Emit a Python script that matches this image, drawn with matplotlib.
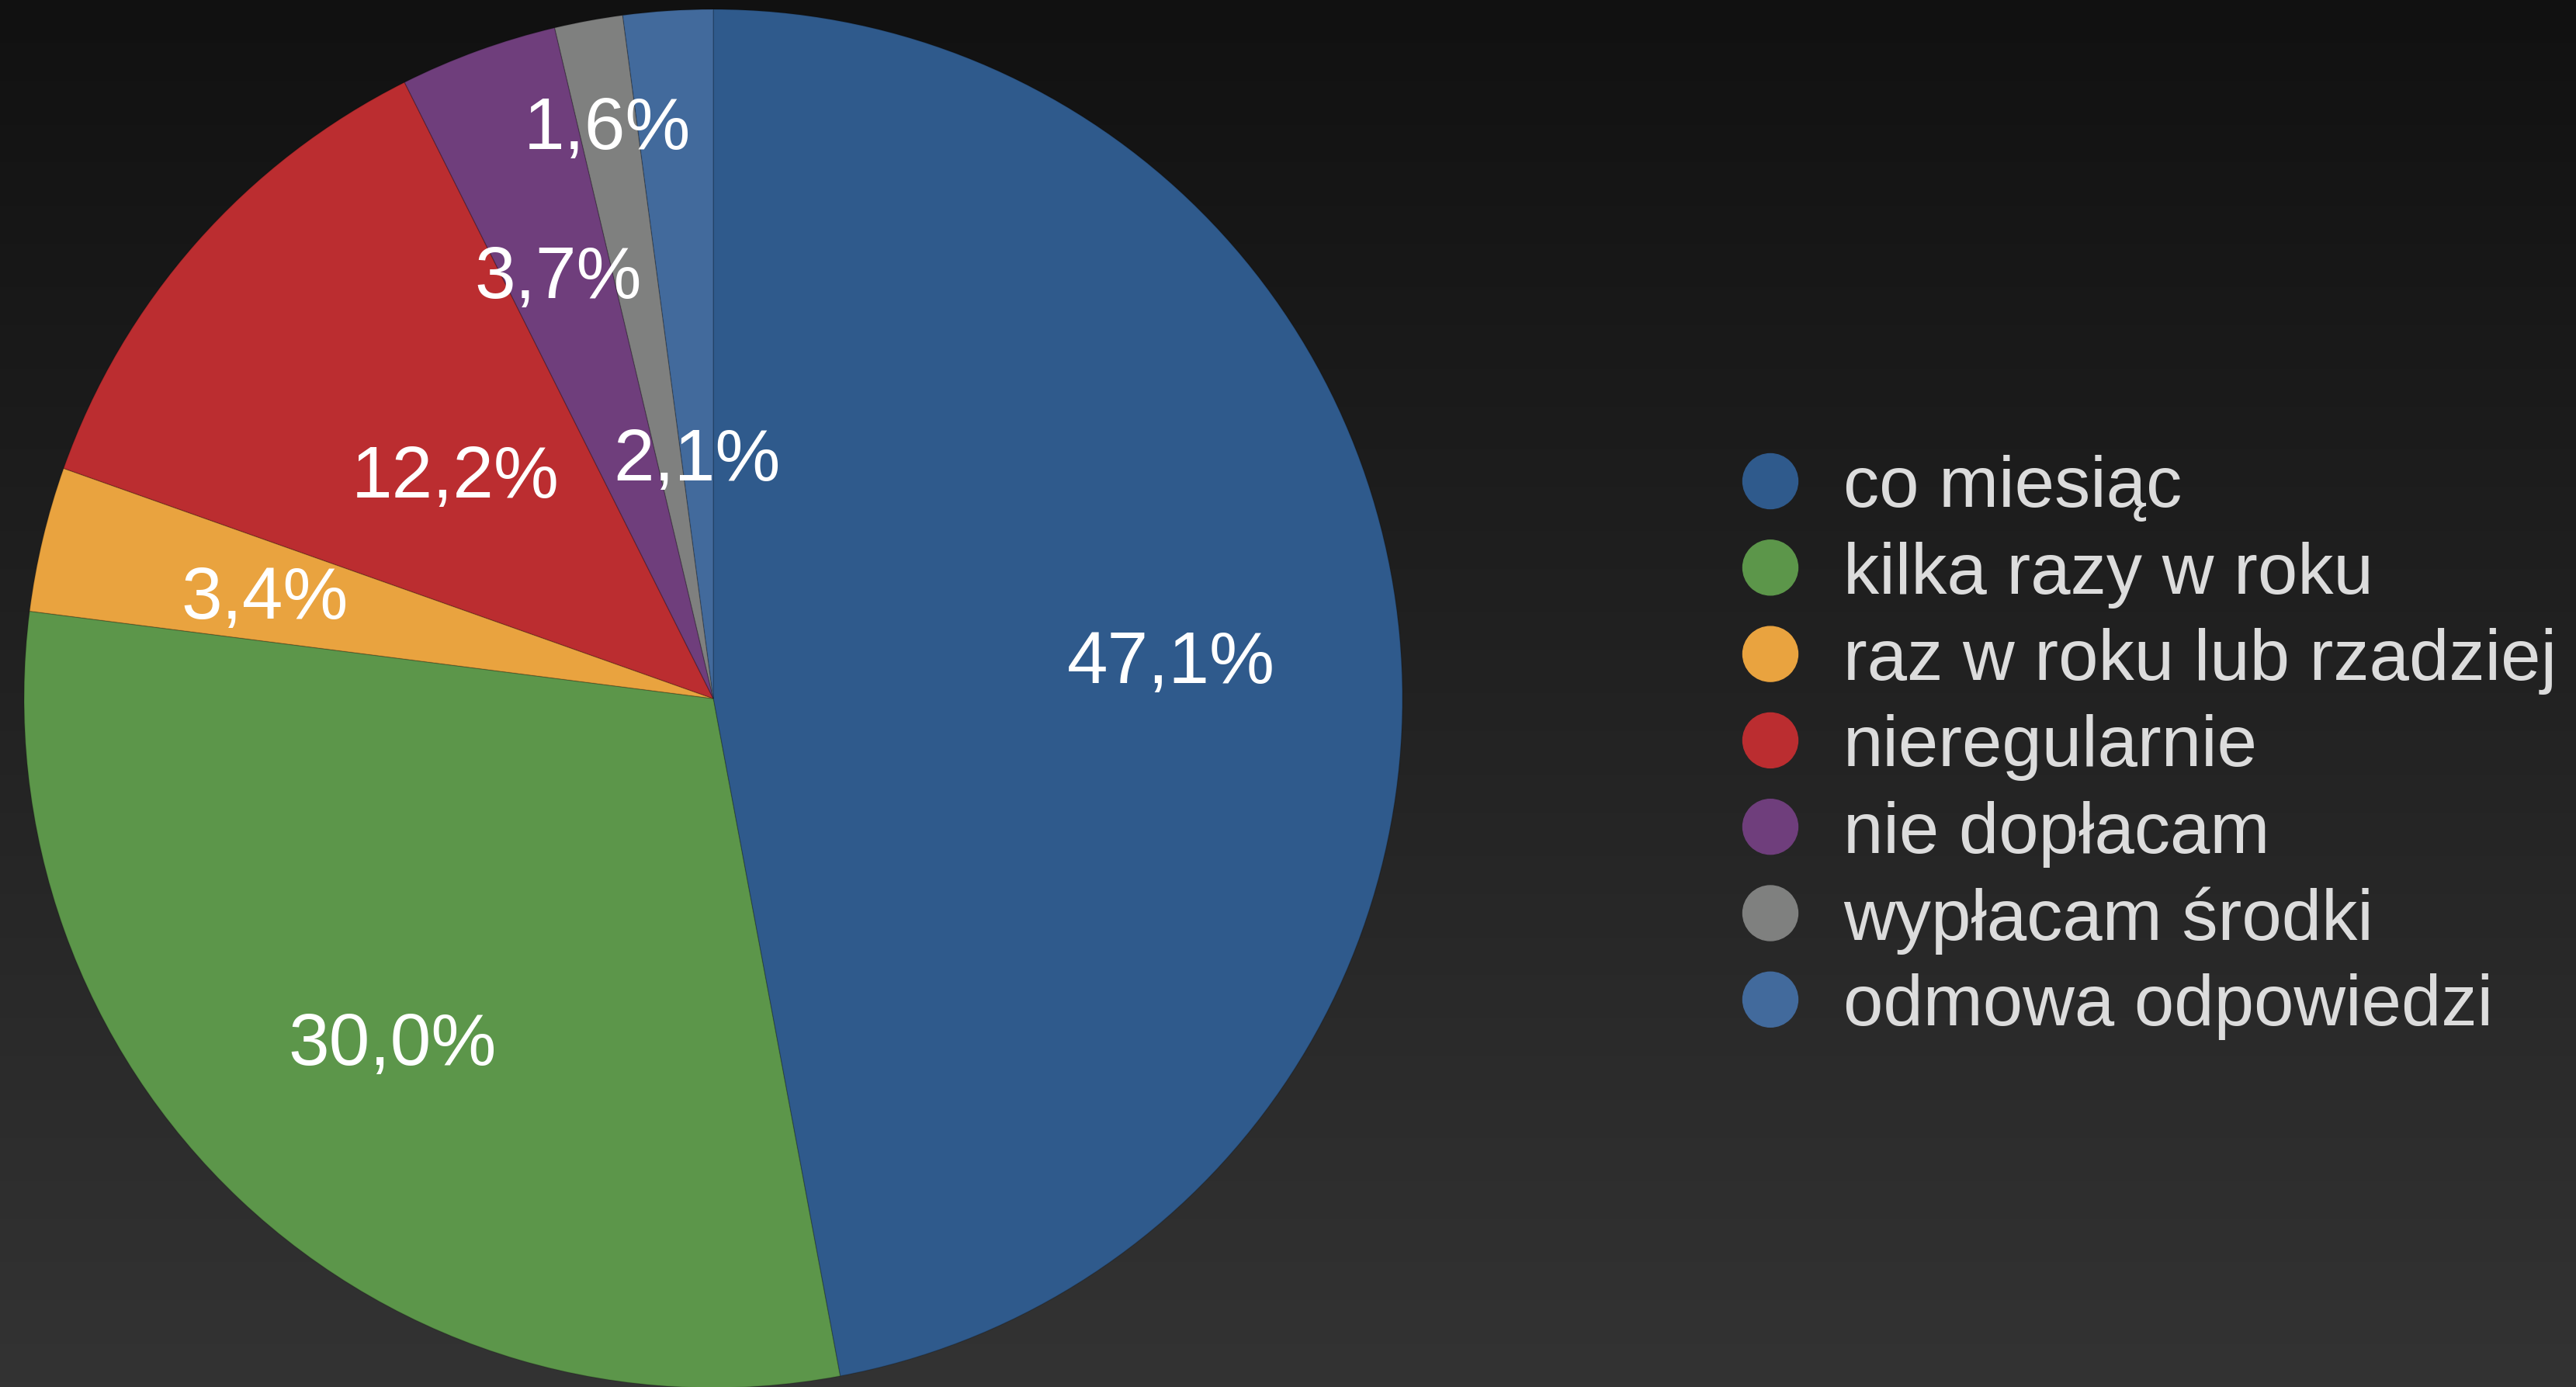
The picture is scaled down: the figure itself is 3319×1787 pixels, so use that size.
import numpy as np
import matplotlib
matplotlib.use("Agg")
import matplotlib.pyplot as plt
from matplotlib.patches import Ellipse

plt.rcParams['font.family'] = ['Liberation Sans', 'DejaVu Sans']

# dane
kategorie = ['co miesiąc', 'kilka razy w roku', 'raz w roku lub rzadziej',
             'nieregularnie', 'nie dopłacam', 'wypłacam środki', 'odmowa odpowiedzi']
procenty = [47.1, 30.0, 3.4, 12.2, 3.7, 1.6, 2.1]
etykiety = ['47,1%', '30,0%', '3,4%', '12,2%', '3,7%', '1,6%', '2,1%']
kolory = ['#2f5a8c', '#5c964a', '#e9a33f', '#bb2d30', '#6f3e7c', '#7f807f', '#426a9c']
odl_etykiet = [0.667, 0.678, 0.669, 0.50, 0.66, 0.85, 0.356]

W, H = 3319, 1787
fig = plt.figure(figsize=(W / 100, H / 100), dpi=100)

# tlo - gradient
bg = fig.add_axes([0, 0, 1, 1])
grad = np.linspace(0, 1, 256).reshape(-1, 1)
top = np.array([0x11, 0x11, 0x11]) / 255
bot = np.array([0x33, 0x33, 0x33]) / 255
img = top + grad[..., None] * (bot - top)
bg.imshow(img, aspect='auto', extent=[0, 1, 0, 1])
bg.axis('off')

# kolo
cx, cy, r = 919, 900, 888
ax = fig.add_axes([(cx - r) / W, (H - cy - r) / H, 2 * r / W, 2 * r / H])
wedges, _ = ax.pie(procenty, colors=kolory, startangle=90, counterclock=False,
                   wedgeprops=dict(edgecolor='#00000030', linewidth=1.0),
                   radius=1.0)
ax.set_xlim(-1, 1)
ax.set_ylim(-1, 1)
ax.set_aspect('equal')
ax.axis('off')
for w in wedges:
    w.set_clip_on(False)

for w, lab, d in zip(wedges, etykiety, odl_etykiet):
    ang = np.deg2rad((w.theta1 + w.theta2) / 2)
    ax.text(d * np.cos(ang), d * np.sin(ang), lab, color='white', fontsize=68,
            ha='center', va='center_baseline')

# legenda
leg_x = 2281
txt_x = 2375
y0 = 620
dy = 111.3
for i, (k, c) in enumerate(zip(kategorie, kolory)):
    y = y0 + i * dy
    fig.add_artist(Ellipse((leg_x / W, 1 - y / H), 71 / W, 71 / H, color=c,
                           transform=fig.transFigure))
    fig.text(txt_x / W, 1 - y / H, k, color='#dcdcdc', fontsize=66.5,
             ha='left', va='center_baseline')

fig.savefig('out.png', dpi=100)
